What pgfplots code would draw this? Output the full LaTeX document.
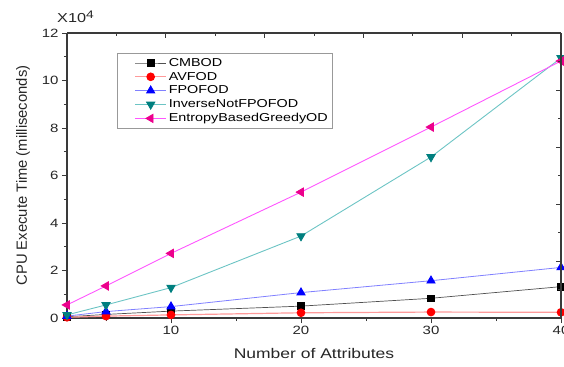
\documentclass[border=0pt]{standalone}
\usepackage{pgfplots}
\pgfplotsset{compat=1.18}
\usepackage{fontspec}
\setmainfont[FakeStretch=1.25]{Liberation Sans}
\newfontfamily\plainsans{Liberation Sans}
\definecolor{axgray}{HTML}{3A3A3A}
\definecolor{cmline}{HTML}{505050}
\definecolor{avline}{HTML}{FF9A9A}
\definecolor{fpline}{HTML}{8080FF}
\definecolor{invline}{HTML}{6CC4C4}
\definecolor{invmark}{HTML}{007F7F}
\definecolor{enline}{HTML}{FF55FF}
\begin{document}
\begin{tikzpicture}
\pgfplotsset{
  common/.style={scale only axis, width=494bp, height=285bp,
    xmin=2, xmax=40, ymin=0, ymax=120000,
    axis line style={axgray, line width=1.3bp},
    tick style={axgray, line width=0.9bp},
    major tick length=5bp, minor tick length=3bp},
}
\begin{axis}[common, name=ax,
  axis x line*=bottom, axis y line*=left,
  xtick={10,20,30,40}, xticklabels={10,20,30,40}, minor xtick={5,15,25,35},
  ytick={0,20000,40000,60000,80000,100000,120000}, yticklabels={0,2,4,6,8,10,12},
  minor ytick={10000,30000,50000,70000,90000,110000},
  scaled y ticks=false,
  tick align=outside,
  tick label style={font=\fontsize{12bp}{14bp}\selectfont, text=black!85},
  xlabel={Number of Attributes},
  xlabel style={font=\fontsize{14bp}{16bp}\selectfont, text=black!85, yshift=-6bp},
  ylabel={\plainsans CPU Execute Time (milliseconds)},
  ylabel style={font=\fontsize{14.8bp}{16bp}\selectfont, text=black!85, yshift=5bp},
  legend style={at={(0.101,0.93)}, anchor=north west, draw=gray!80, line width=0.6bp,
    font=\fontsize{11.5bp}{12bp}\selectfont, row sep=0.3bp, inner xsep=3bp, inner ysep=3bp},
  legend cell align=left,
  legend image code/.code={\path[draw=none, fill=none] (0bp,0bp) -- (46bp,0bp);
    \draw[mark repeat=2, mark phase=2] plot coordinates {(15bp,0bp) (30.5bp,0bp) (46bp,0bp)};},
]
\addplot[cmline, line width=0.7bp, mark=square*, mark size=3.3bp, mark options={draw=black, fill=black, solid}]
  coordinates {(2,500) (5,1500) (10,2900) (20,5000) (30,8300) (40,13200)};
\addlegendentry{CMBOD}
\addplot[avline, line width=1.2bp, mark=*, mark size=3.7bp, mark options={draw=red, fill=red}]
  coordinates {(2,300) (5,800) (10,1300) (20,2200) (30,2500) (40,2400)};
\addlegendentry{AVFOD}
\addplot[fpline, line width=0.8bp, mark=triangle*, mark size=4.7bp, mark options={draw=blue, fill=blue}]
  coordinates {(2,800) (5,2700) (10,4800) (20,10700) (30,15700) (40,21300)};
\addlegendentry{FPOFOD}
\addplot[invline, line width=0.9bp, mark=triangle*, mark size=4.7bp, mark options={draw=invmark, fill=invmark, rotate=180}]
  coordinates {(2,1300) (5,5500) (10,12800) (20,34500) (30,67800) (40,109500)};
\addlegendentry{InverseNotFPOFOD}
\addplot[enline, line width=0.9bp, mark=triangle*, mark size=4.7bp, mark options={draw=magenta, fill=magenta, rotate=90}]
  coordinates {(2,5500) (5,13500) (10,27200) (20,53000) (30,80400) (40,108200)};
\addlegendentry{EntropyBasedGreedyOD}
\end{axis}
\begin{axis}[common,
  axis x line*=top, axis y line*=right,
  xtick={9.6,17.2,24.8,32.4}, minor xtick={5.8,13.4,21,28.6,36.2},
  ytick={24000,48000,72000,96000}, minor ytick={12000,36000,60000,84000,108000},
  xticklabels={}, yticklabels={}, scaled y ticks=false,
  tick align=inside,
]
\end{axis}
\node[anchor=south west, inner sep=0pt, font=\fontsize{13bp}{15bp}\selectfont, text=black!85] at ([xshift=-10bp,yshift=10bp]ax.north west) {X10\textsuperscript{\fontsize{11bp}{12bp}\selectfont 4}};
\pgfresetboundingbox
\path ([xshift=-67bp,yshift=-49bp]ax.south west) rectangle ([xshift=3bp,yshift=33bp]ax.north east);
\end{tikzpicture}
\end{document}
